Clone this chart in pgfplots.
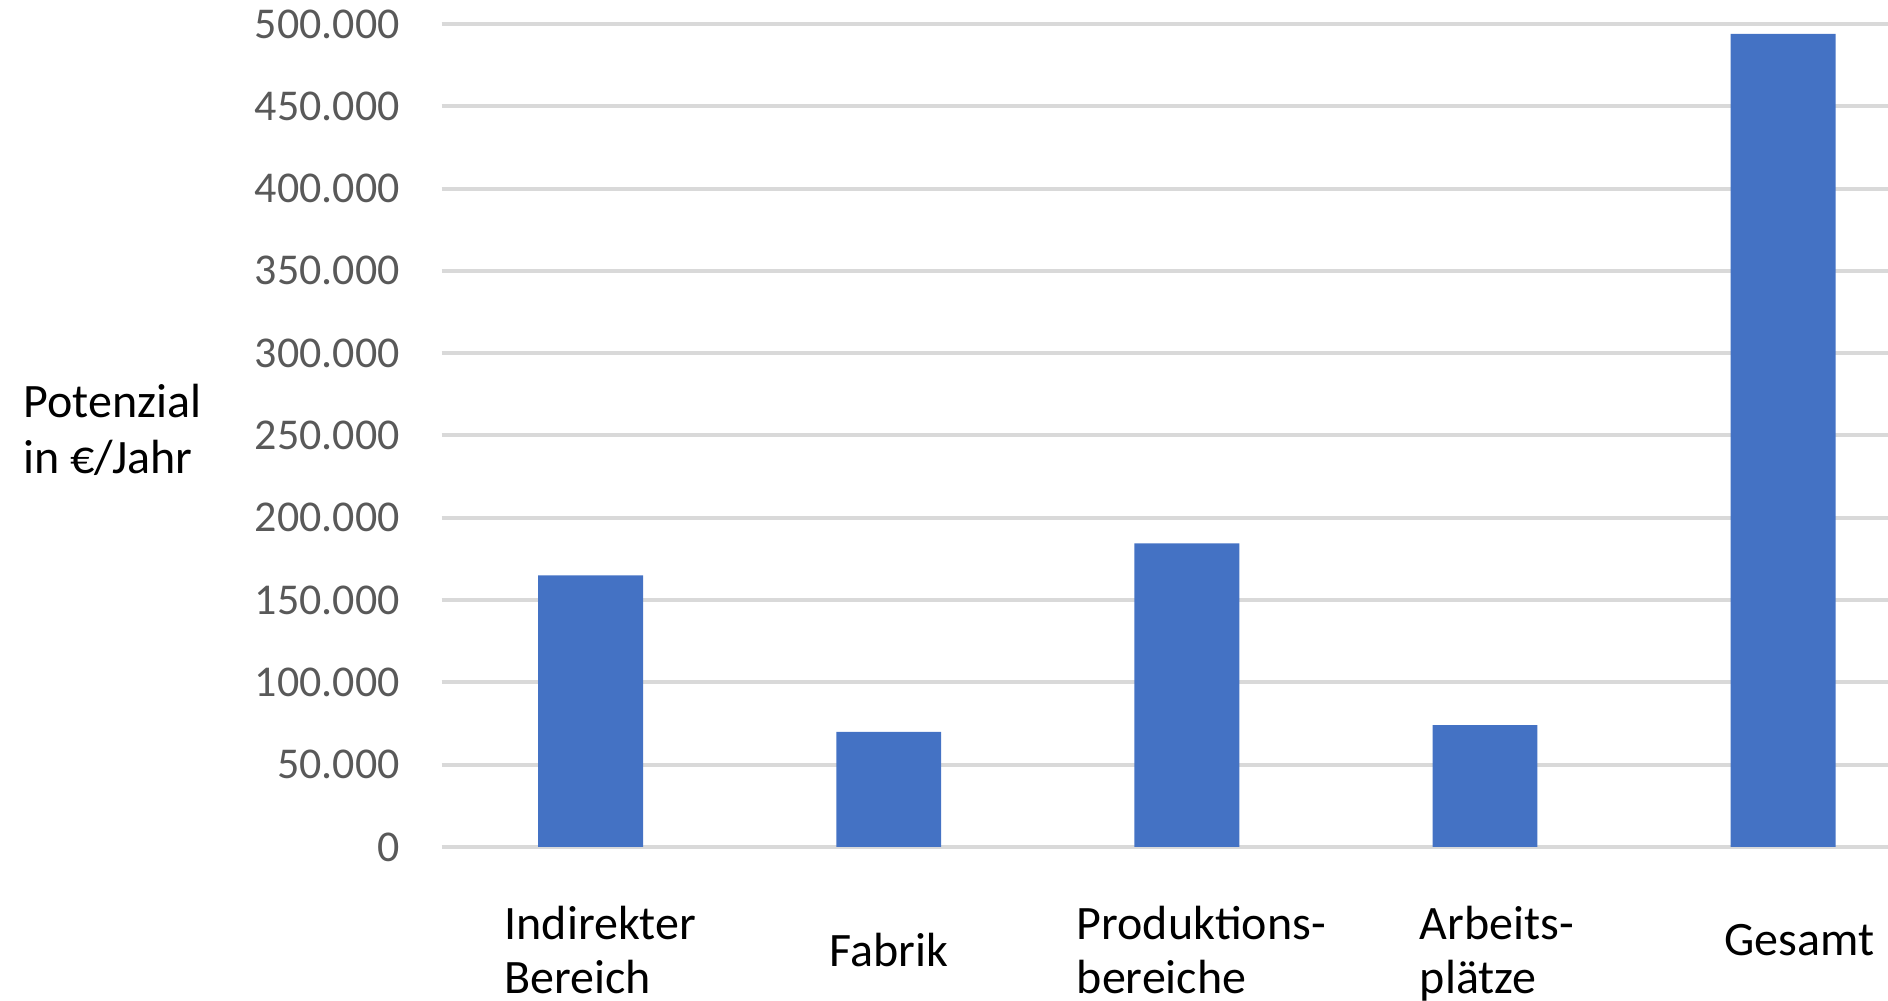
\documentclass[border=0pt]{standalone}
\usepackage{fontspec}
\setmainfont{Carlito}
\usepackage{pgfplots}
\pgfplotsset{compat=1.18}
\definecolor{barblue}{HTML}{4472C4}
\definecolor{gridgray}{HTML}{D9D9D9}
\definecolor{tickgray}{HTML}{595959}
\begin{document}
\begin{tikzpicture}
\begin{axis}[
  scale only axis,
  width=361.6pt, height=205.75pt,
  xmin=-0.5, xmax=4.352,
  ymin=0, ymax=500000,
  axis line style={draw=none},
  tick style={draw=none},
  ymajorgrids,
  grid style={gridgray, line width=1pt},
  ytick={0,50000,100000,150000,200000,250000,300000,350000,400000,450000,500000},
  yticklabels={0,50.000,100.000,150.000,200.000,250.000,300.000,350.000,400.000,450.000,500.000},
  scaled y ticks=false,
  yticklabel style={font=\fontsize{11}{13}\selectfont, text=tickgray, inner sep=0pt, anchor=east, xshift=-10.25pt},
  xtick={0,1,2,3,4},
  xticklabels={{\rule{0pt}{9pt}\hspace*{4.8pt}Indirekter\\\hspace*{4.8pt}Bereich},{\rule{0pt}{15.75pt}Fabrik},{\rule{0pt}{9pt}\hspace*{7.2pt}Produktions-\\\hspace*{7.2pt}bereiche},{\rule{0pt}{9pt}\hspace*{6pt}Arbeits-\\\hspace*{6pt}plätze},{\rule{0pt}{13pt}\hspace*{8pt}Gesamt}},
  xticklabel style={font=\fontsize{12}{13.5}\selectfont, align=left, anchor=north, inner sep=0pt, yshift=-14pt},
]
\addplot[ybar, bar width=0.352, fill=barblue, draw=none] coordinates {(0,165000) (1,70000) (2,184500) (3,74100) (4,494000)};
\coordinate (tl) at (rel axis cs:0,1);
\coordinate (br) at (rel axis cs:1,0);
\end{axis}
\node[anchor=north west, inner sep=0pt, align=left, font=\fontsize{12}{14}\selectfont] at ([xshift=-104.75pt,yshift=-89.25pt]tl) {\rule{0pt}{9pt}Potenzial\\in €/Jahr};
\pgfresetboundingbox
\path ([xshift=-110.4pt,yshift=6pt]tl) rectangle ([yshift=-38.5pt]br);
\end{tikzpicture}
\end{document}
